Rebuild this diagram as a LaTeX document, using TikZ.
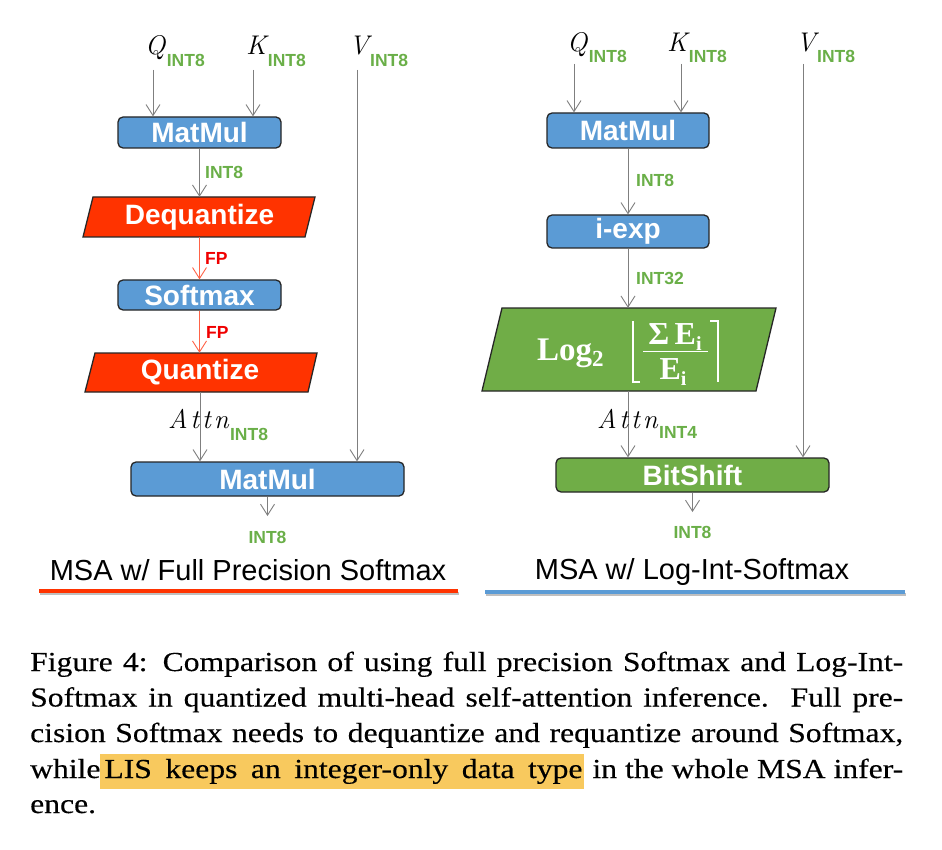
\documentclass[tikz,border=0pt]{standalone}
\usepackage{fontspec}
\usetikzlibrary{arrows.meta,calc}
\newfontfamily\arialf{Liberation Sans}
\newfontfamily\sigf{Liberation Serif}
\newfontfamily\capfont[FakeStretch=1.15,FakeBold=0.3]{Liberation Serif}
\definecolor{bblue}{HTML}{5B9BD5}
\definecolor{bgreen}{HTML}{70AD47}
\definecolor{bred}{HTML}{FF3300}
\definecolor{bord}{HTML}{262626}
\definecolor{agray}{HTML}{7F7F7F}
\definecolor{fparrow}{HTML}{FF6347}
\definecolor{fptext}{HTML}{F00000}
\definecolor{igreen}{HTML}{6AAF48}
\definecolor{hl}{HTML}{F8C95E}
\definecolor{ublue}{HTML}{5B9BD5}
\begin{document}
\begin{tikzpicture}[x=1pt,y=-1pt,
  box/.style={draw=bord, line width=1.3pt, rounded corners=5pt, inner sep=0pt, text=white,
    font=\arialf\bfseries\fontsize{28}{28}\selectfont},
  ptext/.style={inner sep=0pt, text=white, font=\arialf\bfseries\fontsize{28}{28}\selectfont},
  pgram/.style={draw=bord, line width=1.3pt},
  arr/.style={draw=agray, line width=0.9pt, -{Straight Barb[length=11pt,width=14pt]}},
  fparr/.style={draw=fparrow, line width=0.9pt, -{Straight Barb[length=11pt,width=14pt]}},
  lbl/.style={inner sep=0pt, text=igreen, font=\arialf\bfseries\fontsize{17.5}{18}\selectfont},
  fplbl/.style={inner sep=0pt, text=fptext, font=\arialf\bfseries\fontsize{17.5}{18}\selectfont},
  mvar/.style={inner sep=0pt, font=\itshape\fontsize{27}{27}\selectfont},
  ttl/.style={inner sep=0pt, font=\arialf\fontsize{29}{29}\selectfont},
  capt/.style={inner sep=0pt, font=\capfont\fontsize{27.5}{35.5}\selectfont},
  logt/.style={inner sep=0pt, text=white, font=\sigf\bfseries\fontsize{32}{32}\selectfont},
  brk/.style={draw=white, line width=2.2pt}
]
\useasboundingbox (0,0) rectangle (942,850);
\fill[white] (0,0) rectangle (942,850);

% ================= LEFT PANEL =================
\node[mvar, anchor=base west] (q1) at (145,55) {Q};
\node[lbl, anchor=base west] (q1s) at ($(q1.base east)+(1,12)$) {INT8};
\node[mvar, anchor=base west] (k1) at (246,55) {K};
\node[lbl, anchor=base west] (k1s) at ($(k1.base east)+(1,12)$) {INT8};
\node[mvar, anchor=base west] (v1) at (349,55) {V};
\node[lbl, anchor=base west] (v1s) at ($(v1.base east)+(1,12)$) {INT8};
\coordinate (q1t) at (153,70);
\coordinate (k1t) at (253,70);
\coordinate (v1t) at (357,70);

\node[box, fill=bblue, minimum width=163pt, minimum height=31pt] (mm1) at (199.5,132.5) {MatMul};

\fill[bred] (93,197) -- (315,197) -- (305,237) -- (83,237) -- cycle;
\draw[pgram] (93,197) -- (315,197) -- (305,237) -- (83,237) -- cycle;
\node[ptext, minimum width=212pt, minimum height=40pt] (dq) at (199.5,217) {Dequantize};

\node[box, fill=bblue, minimum width=163pt, minimum height=30pt] (sm) at (199.5,295) {Softmax};

\fill[bred] (95,353) -- (317,353) -- (308,392) -- (85,392) -- cycle;
\draw[pgram] (95,353) -- (317,353) -- (308,392) -- (85,392) -- cycle;
\node[ptext, minimum width=212pt, minimum height=39pt] (qz) at (200,372.5) {Quantize};

\node[box, fill=bblue, minimum width=273pt, minimum height=34pt] (mm2) at (267.5,479) {MatMul};
\coordinate (o1) at (267.5,516);

\draw[arr] (q1t) -- (q1t |- mm1.north);
\draw[arr] (k1t) -- (k1t |- mm1.north);
\draw[arr] (mm1.south) -- (mm1.south |- dq.north);
\draw[fparr] (dq.south) -- (dq.south |- sm.north);
\draw[fparr] (sm.south) -- (sm.south |- qz.north);
\draw[arr] (qz.south) -- (qz.south |- mm2.north);
\draw[arr] (v1t) -- (v1t |- mm2.north);
\draw[arr] (mm2.south) -- (o1);

\node[lbl, anchor=base west] (l1) at (205,179) {INT8};
\node[fplbl, anchor=base west] (f1) at (205,265) {FP};
\node[fplbl, anchor=base west] (f2) at (206,338) {FP};
\node[mvar, anchor=base west] (a1) at (168,428) {A\kern2.5pt t\kern3pt t\kern3pt n};
\node[lbl, anchor=base west] (a1s) at ($(a1.base east)+(1,12)$) {INT8};
\node[lbl, anchor=base] (l1b) at (267.5,543) {INT8};

\node[ttl, anchor=base] (t1) at (248,580) {MSA w/ Full Precision Softmax};
\draw[black!25, line width=3pt] (40,593.5) -- (459,593.5);
\draw[bred, line width=3.5pt] (39,591) -- (458,591);

% ================= RIGHT PANEL =================
\node[mvar, anchor=base west] (q2) at (567,52) {Q};
\node[lbl, anchor=base west] (q2s) at ($(q2.base east)+(1,11)$) {INT8};
\node[mvar, anchor=base west] (k2) at (667,52) {K};
\node[lbl, anchor=base west] (k2s) at ($(k2.base east)+(1,11)$) {INT8};
\node[mvar, anchor=base west] (v2) at (796,52) {V};
\node[lbl, anchor=base west] (v2s) at ($(v2.base east)+(1,11)$) {INT8};
\coordinate (q2t) at (574,64);
\coordinate (k2t) at (681,64);
\coordinate (v2t) at (803,64);

\node[box, fill=bblue, minimum width=162pt, minimum height=35pt] (mm3) at (628,130.5) {MatMul};
\node[box, fill=bblue, minimum width=162pt, minimum height=33pt] (ie) at (628,231.5) {i-exp};

\fill[bgreen] (502,308) -- (776,308) -- (756,391) -- (482,391) -- cycle;
\draw[pgram] (502,308) -- (776,308) -- (756,391) -- (482,391) -- cycle;
\node[inner sep=0pt, minimum width=254pt, minimum height=83pt] (lg) at (628,349.5) {};
\node[logt, anchor=base west] (lgw) at (537,360) {{\fontsize{33}{33}\selectfont Log}\raisebox{-6pt}{\fontsize{23}{23}\selectfont 2}};
\node[logt, anchor=base] (num) at (675,344) {Σ\,E\raisebox{-6pt}{\fontsize{20}{20}\selectfont i}};
\node[logt, anchor=base] (den) at (673,379) {E\raisebox{-6pt}{\fontsize{20}{20}\selectfont i}};
\draw[draw=white, line width=1.8pt] (643,351.5) -- (708,351.5);
\draw[brk] (640,382) -- (633,382) -- (633,321);
\draw[brk] (710,321) -- (718,321) -- (718,382);

\node[box, fill=bgreen, minimum width=273pt, minimum height=34pt] (bs) at (692.5,475) {BitShift};
\coordinate (o2) at (692.5,512);

\draw[arr] (q2t) -- (q2t |- mm3.north);
\draw[arr] (k2t) -- (k2t |- mm3.north);
\draw[arr] (mm3.south) -- (mm3.south |- ie.north);
\draw[arr] (ie.south) -- (ie.south |- lg.north);
\draw[arr] (lg.south) -- (lg.south |- bs.north);
\draw[arr] (v2t) -- (v2t |- bs.north);
\draw[arr] (bs.south) -- (o2);

\node[lbl, anchor=base west] (l2) at (636,187) {INT8};
\node[lbl, anchor=base west] (l3) at (636,285) {INT32};
\node[mvar, anchor=base west] (a2) at (597,428) {A\kern2.5pt t\kern3pt t\kern3pt n};
\node[lbl, anchor=base west] (a2s) at ($(a2.base east)+(1,10)$) {INT4};
\node[lbl, anchor=base] (l2b) at (692.5,538) {INT8};

\node[ttl, anchor=base] (t2) at (692,579) {MSA w/ Log-Int-Softmax};
\draw[black!25, line width=3pt] (486,594.5) -- (906,594.5);
\draw[ublue, line width=3.5pt] (485,592) -- (905,592);

% ================= CAPTION =================
\node[capt, anchor=base west] (c1) at (30,671) {\makebox[873pt][s]{Figure 4: Comparison of using full precision Softmax and Log-Int-}};
\node[capt, anchor=base west] (c2) at (30,706.5) {\makebox[873pt][s]{Softmax in quantized multi-head self-attention inference.\ \ Full pre-}};
\node[capt, anchor=base west] (c3) at (30,742) {\makebox[873pt][s]{cision Softmax needs to dequantize and requantize around Softmax,}};
\node[capt, anchor=base west] (c4) at (30,778) {\setlength{\fboxsep}{0pt}\makebox[873pt][s]{while\colorbox{hl}{\rule[-11pt]{0pt}{35pt}\makebox[484pt][s]{\hspace{4pt}LIS keeps an integer-only data type\hspace{2pt}}} in the whole MSA infer-}};
\node[capt, anchor=base west] (c5) at (30,813) {ence.};
\end{tikzpicture}
\end{document}
